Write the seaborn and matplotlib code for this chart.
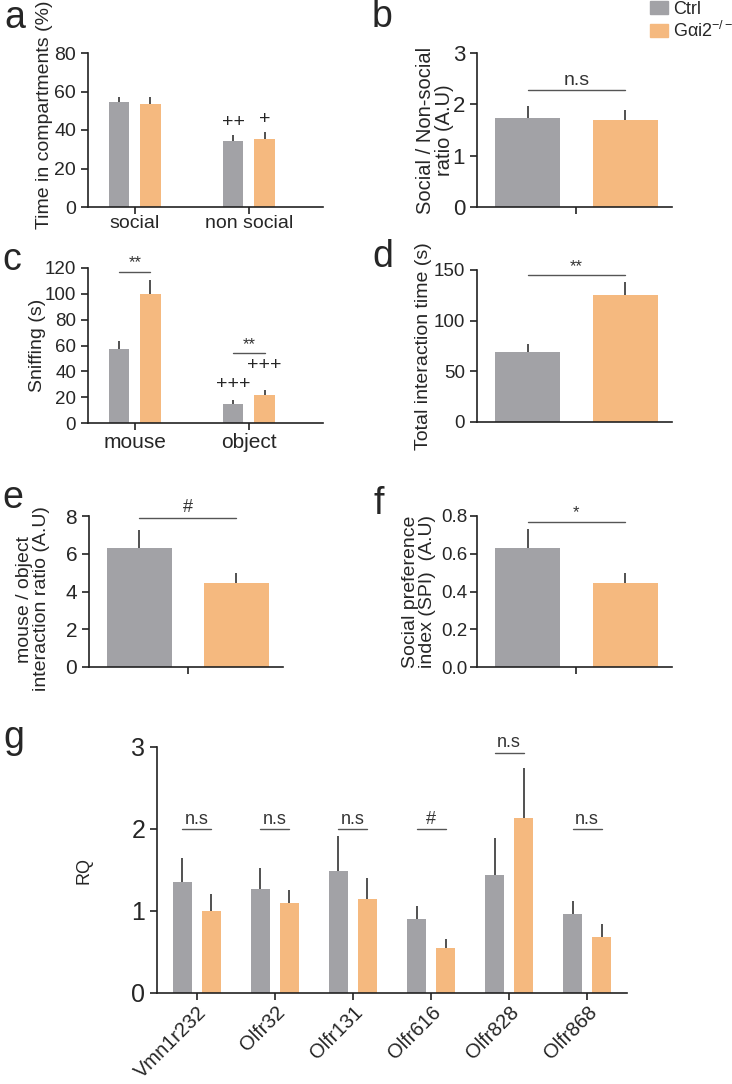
import matplotlib
matplotlib.use("Agg")
import matplotlib.pyplot as plt
from matplotlib.patches import Patch
import pandas as pd
import seaborn as sns

sns.set_style("ticks")
plt.rcParams["font.family"] = ["Liberation Sans", "DejaVu Sans"]
plt.rcParams["mathtext.fontset"] = "custom"
plt.rcParams["mathtext.rm"] = "Liberation Sans"
plt.rcParams["mathtext.it"] = "Liberation Sans:italic"

genotypes = ["Ctrl", "G\u03b1i2$^{-/-}$"]
colors = ["#a2a2a6", "#f5b97f"]

# a - time in compartments
a_groups = ["social", "non social"]
a_ctrl = [54.5, 34.3]
a_ctrl_sem = [2.6, 3.1]
a_ko = [53.5, 35.3]
a_ko_sem = [3.6, 3.6]
a_marks_ctrl = ["", "++"]
a_marks_ko = ["", "+"]

# b - social / non-social ratio
b_ctrl, b_ctrl_sem = 1.74, 0.23
b_ko, b_ko_sem = 1.69, 0.20
b_sig = ("n.s", 2.28)

# c - sniffing
c_groups = ["mouse", "object"]
c_ctrl = [57.5, 14.8]
c_ctrl_sem = [6.2, 3.0]
c_ko = [100.0, 21.7]
c_ko_sem = [10.7, 3.8]
c_sig = [("**", 117), ("**", 54)]
c_plus = ["+++", "+++"]
c_plus_y = [23, 38]

# d - total interaction time
d_ctrl, d_ctrl_sem = 69, 8
d_ko, d_ko_sem = 125.5, 13
d_sig = ("**", 145)

# e - mouse / object ratio
e_ctrl, e_ctrl_sem = 6.32, 0.95
e_ko, e_ko_sem = 4.45, 0.55
e_sig = ("#", 7.9)

# f - social preference index
f_ctrl, f_ctrl_sem = 0.632, 0.098
f_ko, f_ko_sem = 0.447, 0.053
f_sig = ("*", 0.77)

# g - RQ per receptor gene
genes = ["Vmn1r232", "Olfr32", "Olfr131", "Olfr616", "Olfr828", "Olfr868"]
g_ctrl = [1.35, 1.27, 1.49, 0.90, 1.44, 0.96]
g_ctrl_sem = [0.30, 0.25, 0.42, 0.16, 0.45, 0.16]
g_ko = [1.00, 1.10, 1.15, 0.55, 2.13, 0.68]
g_ko_sem = [0.21, 0.16, 0.25, 0.11, 0.61, 0.16]
g_sig = ["n.s", "n.s", "n.s", "#", "n.s", "n.s"]
g_sig_y = [2.0, 2.0, 2.0, 2.0, 2.93, 2.0]

W, H = 732, 1084
fig = plt.figure(figsize=(W / 100, H / 100), dpi=100)


def px_axes(l, t, r, b):
    return fig.add_axes([l / W, 1 - b / H, (r - l) / W, (b - t) / H])


def bars(ax, cats, ctrl, ctrl_sem, ko, ko_sem, width, gap):
    n = len(cats)
    df = pd.DataFrame({
        "cat": list(cats) * 2,
        "geno": [genotypes[0]] * n + [genotypes[1]] * n,
        "val": list(ctrl) + list(ko),
    })
    sns.barplot(data=df, x="cat", y="val", hue="geno", palette=colors,
                width=width, gap=gap, errorbar=None, legend=False,
                saturation=1, linewidth=0, ax=ax)
    ps = sorted(ax.patches, key=lambda p: p.get_x())
    xs = [p.get_x() + p.get_width() / 2 for p in ps]
    xc, xk = xs[0::2], xs[1::2]
    ax.errorbar(xc, ctrl, yerr=[[0] * n, ctrl_sem], fmt="none",
                ecolor="#333333", elinewidth=1.2, capsize=0)
    ax.errorbar(xk, ko, yerr=[[0] * n, ko_sem], fmt="none",
                ecolor="#333333", elinewidth=1.2, capsize=0)
    ax.set_xlabel("")
    ax.set_ylabel("")
    for s in ["left", "bottom"]:
        ax.spines[s].set_linewidth(1.2)
        ax.spines[s].set_color("#222222")
    sns.despine(ax=ax)
    ax.tick_params(axis="y", length=5, width=1.2, color="#222222")
    ax.tick_params(axis="x", length=5, width=1.2, color="#222222")
    return xc, xk


def sig(ax, x0, x1, y, label, size=13):
    ax.plot([x0, x1], [y, y], color="#555555", lw=1, clip_on=False)
    ax.annotate(label, ((x0 + x1) / 2, y), xytext=(0, 1),
                textcoords="offset points", ha="center", va="bottom",
                fontsize=size, color="#333333", annotation_clip=False)


# panel a
ax = px_axes(88, 53, 323, 207)
xc, xk = bars(ax, a_groups, a_ctrl, a_ctrl_sem, a_ko, a_ko_sem, 0.55, 0.345)
ax.set_xlim(-0.41, 1.65)
ax.set_ylim(0, 80)
ax.set_yticks([0, 20, 40, 60, 80])
ax.tick_params(axis="y", labelsize=14)
ax.tick_params(axis="x", labelsize=14, pad=1)
for i in range(2):
    ax.annotate(a_marks_ctrl[i], (xc[i], a_ctrl[i] + a_ctrl_sem[i]), xytext=(0, 3),
                textcoords="offset points", ha="center", va="bottom", fontsize=14)
    ax.annotate(a_marks_ko[i], (xk[i], a_ko[i] + a_ko_sem[i]), xytext=(0, 3),
                textcoords="offset points", ha="center", va="bottom", fontsize=14)
ax.set_ylabel("Time in compartments (%)", fontsize=14)
ax.yaxis.set_label_coords(-0.15, 0.6)

# panel b
ax = px_axes(477, 53, 672, 207)
xc, xk = bars(ax, [""], [b_ctrl], [b_ctrl_sem], [b_ko], [b_ko_sem], 1.0, 0.333)
ax.set_xlim(-0.51, 0.49)
ax.set_ylim(0, 3)
ax.set_yticks([0, 1, 2, 3])
ax.tick_params(axis="y", labelsize=16)
sig(ax, xc[0], xk[0], b_sig[1], b_sig[0], 14)
ax.set_ylabel("Social / Non-social\nratio (A.U)", fontsize=14.5, linespacing=1.0)
ax.yaxis.set_label_coords(-0.12, 0.5)

# panel c
ax = px_axes(88, 268, 323, 423)
xc, xk = bars(ax, c_groups, c_ctrl, c_ctrl_sem, c_ko, c_ko_sem, 0.55, 0.345)
ax.set_xlim(-0.41, 1.65)
ax.set_ylim(0, 120)
ax.set_yticks(range(0, 121, 20))
ax.tick_params(axis="y", labelsize=13.5)
ax.tick_params(axis="x", labelsize=15, pad=2)
for i in range(2):
    sig(ax, xc[i], xk[i], c_sig[i][1], c_sig[i][0], 12)
ax.text(xc[1], c_plus_y[0], c_plus[0], ha="center", va="bottom", fontsize=14)
ax.text(xk[1], c_plus_y[1], c_plus[1], ha="center", va="bottom", fontsize=14)
ax.set_ylabel("Sniffing (s)", fontsize=14)
ax.yaxis.set_label_coords(-0.18, 0.5)

# panel d
ax = px_axes(477, 270, 672, 422)
xc, xk = bars(ax, [""], [d_ctrl], [d_ctrl_sem], [d_ko], [d_ko_sem], 1.0, 0.333)
ax.set_xlim(-0.51, 0.49)
ax.set_ylim(0, 150)
ax.set_yticks([0, 50, 100, 150])
ax.tick_params(axis="y", labelsize=13.5)
ax.tick_params(axis="x", length=0)
sig(ax, xc[0], xk[0], d_sig[1], d_sig[0], 12)
ax.set_ylabel("Total interaction time (s)", fontsize=14)
ax.yaxis.set_label_coords(-0.23, 0.5)

# panel e
ax = px_axes(89, 516, 283, 667)
xc, xk = bars(ax, [""], [e_ctrl], [e_ctrl_sem], [e_ko], [e_ko_sem], 1.0, 0.333)
ax.set_xlim(-0.51, 0.49)
ax.set_ylim(0, 8)
ax.set_yticks([0, 2, 4, 6, 8])
ax.tick_params(axis="y", labelsize=15)
sig(ax, xc[0], xk[0], e_sig[1], e_sig[0], 13)
ax.set_ylabel("mouse / object\ninteraction ratio (A.U)", fontsize=14, linespacing=1.0)
ax.yaxis.set_label_coords(-0.2, 0.45)

# panel f
ax = px_axes(477, 516, 672, 667)
xc, xk = bars(ax, [""], [f_ctrl], [f_ctrl_sem], [f_ko], [f_ko_sem], 1.0, 0.333)
ax.set_xlim(-0.51, 0.49)
ax.set_ylim(0, 0.8)
ax.set_yticks([0, 0.2, 0.4, 0.6, 0.8])
ax.set_yticklabels(["0.0", "0.2", "0.4", "0.6", "0.8"])
ax.tick_params(axis="y", labelsize=13.5, pad=2)
sig(ax, xc[0], xk[0], f_sig[1], f_sig[0], 12)
ax.set_ylabel("Social preference\nindex (SPI)  (A.U)", fontsize=14, linespacing=1.0)
ax.yaxis.set_label_coords(-0.21, 0.5)

# panel g
ax = px_axes(157, 747, 627, 993)
xc, xk = bars(ax, genes, g_ctrl, g_ctrl_sem, g_ko, g_ko_sem, 0.744, 0.33)
ax.set_xlim(-0.51, 5.51)
ax.set_ylim(0, 3)
ax.set_yticks([0, 1, 2, 3])
ax.tick_params(axis="y", labelsize=18)
ax.tick_params(axis="x", labelsize=14.5, pad=2)
for lbl in ax.get_xticklabels():
    lbl.set_rotation(45)
    lbl.set_ha("right")
    lbl.set_rotation_mode("anchor")
for i in range(len(genes)):
    sig(ax, xc[i], xk[i], g_sig_y[i], g_sig[i], 13)
ax.set_ylabel("RQ", fontsize=13)
ax.yaxis.set_label_coords(-0.138, 0.5)

# panel letters
for letter, x, y in [("a", 4, 28), ("b", 372, 27), ("c", 2, 270), ("d", 372, 267),
                     ("e", 2, 508), ("f", 374, 514), ("g", 3, 748)]:
    fig.text(x / W, 1 - y / H, letter, fontsize=27, va="baseline", ha="left")

handles = [Patch(color=colors[0]), Patch(color=colors[1])]
fig.legend(handles, genotypes, loc="upper left", bbox_to_anchor=(650 / W, 1 - 1 / H),
           frameon=False, fontsize=13, handlelength=1.0, handleheight=0.7,
           handletextpad=0.3, labelspacing=0.15, borderpad=0, borderaxespad=0)

fig.savefig("out.png", dpi=100)
